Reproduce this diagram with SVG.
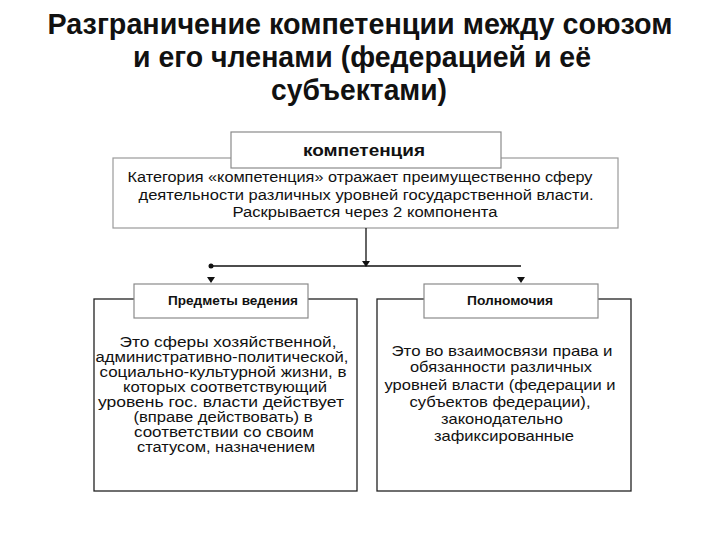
<svg xmlns="http://www.w3.org/2000/svg" width="720" height="540" viewBox="0 0 720 540">
<defs>
<style>
.t{font-family:"Liberation Sans",Arial,sans-serif;fill:#111;text-anchor:middle}
.title{font-size:29px;font-weight:bold}
.lbl{fill:#fff;stroke:#8a8a8a;stroke-width:1.2}
.big{fill:#fff;stroke:#222;stroke-width:1.3}
.ln{stroke:#111;stroke-width:1.3;fill:none}
.ah{fill:#111}
</style>
</defs>
<rect width="720" height="540" fill="#fff"/>
<g id="title">
<text class="t title" x="360" y="34" textLength="625" lengthAdjust="spacingAndGlyphs">Разграничение компетенции между союзом</text>
<text class="t title" x="362" y="67" textLength="458" lengthAdjust="spacingAndGlyphs">и его членами (федерацией и её</text>
<text class="t title" x="359" y="100" textLength="176" lengthAdjust="spacingAndGlyphs">субъектами)</text>
</g>
<g id="main">
<rect x="113" y="158" width="505" height="70" fill="#fff" stroke="#9a9a9a" stroke-width="1.2"/>
<text class="t" font-size="15.5" x="360" y="182" textLength="465" lengthAdjust="spacingAndGlyphs">Категория «компетенция» отражает преимущественно сферу</text>
<text class="t" font-size="15.5" x="366" y="200" textLength="455" lengthAdjust="spacingAndGlyphs">деятельности различных уровней государственной власти.</text>
<text class="t" font-size="15.5" x="365" y="217" textLength="265" lengthAdjust="spacingAndGlyphs">Раскрывается через 2 компонента</text>
</g>
<g id="competence">
<rect class="lbl" x="231" y="132" width="270" height="36"/>
<text class="t" font-size="17" font-weight="bold" x="364" y="156" textLength="122" lengthAdjust="spacingAndGlyphs">компетенция</text>
</g>
<g id="connectors">
<line class="ln" x1="366" y1="228" x2="366" y2="262"/>
<polygon class="ah" points="362,261 370,261 366,267"/>
<line class="ln" x1="211" y1="266" x2="521" y2="266"/>
<circle cx="211" cy="266" r="2.5" fill="#111"/>
<polygon class="ah" points="207,277 215,277 211,283"/>
<polygon class="ah" points="517,277 525,277 521,283"/>
</g>
<g id="subjects">
<rect class="big" x="94" y="299" width="263" height="192"/>
<rect class="lbl" x="134" y="284" width="174" height="34"/>
<text class="t" font-size="12.5" font-weight="bold" x="233" y="305" textLength="130" lengthAdjust="spacingAndGlyphs">Предметы ведения</text>
<g font-size="14">
<text class="t" x="228" y="347" textLength="217" lengthAdjust="spacingAndGlyphs">Это сферы хозяйственной,</text>
<text class="t" x="222" y="362" textLength="253" lengthAdjust="spacingAndGlyphs">административно-политической,</text>
<text class="t" x="223" y="377" textLength="247" lengthAdjust="spacingAndGlyphs">социально-культурной жизни, в</text>
<text class="t" x="225" y="392" textLength="204" lengthAdjust="spacingAndGlyphs">которых соответствующий</text>
<text class="t" x="221" y="407" textLength="246" lengthAdjust="spacingAndGlyphs">уровень гос. власти действует</text>
<text class="t" x="223" y="422" textLength="179" lengthAdjust="spacingAndGlyphs">(вправе действовать) в</text>
<text class="t" x="224" y="437" textLength="180" lengthAdjust="spacingAndGlyphs">соответствии со своим</text>
<text class="t" x="226" y="452" textLength="178" lengthAdjust="spacingAndGlyphs">статусом, назначением</text>
</g>
</g>
<g id="powers">
<rect class="big" x="377" y="299" width="254" height="192"/>
<rect class="lbl" x="424" y="284" width="174" height="34"/>
<text class="t" font-size="12.5" font-weight="bold" x="510" y="305" textLength="86" lengthAdjust="spacingAndGlyphs">Полномочия</text>
<g font-size="14.5">
<text class="t" x="502" y="356" textLength="221" lengthAdjust="spacingAndGlyphs">Это во взаимосвязи права и</text>
<text class="t" x="501" y="372" textLength="182" lengthAdjust="spacingAndGlyphs">обязанности различных</text>
<text class="t" x="500" y="390" textLength="231" lengthAdjust="spacingAndGlyphs">уровней власти (федерации и</text>
<text class="t" x="500" y="407" textLength="181" lengthAdjust="spacingAndGlyphs">субъектов федерации),</text>
<text class="t" x="502" y="424" textLength="122" lengthAdjust="spacingAndGlyphs">законодательно</text>
<text class="t" x="504" y="441" textLength="140" lengthAdjust="spacingAndGlyphs">зафиксированные</text>
</g>
</g>
</svg>
